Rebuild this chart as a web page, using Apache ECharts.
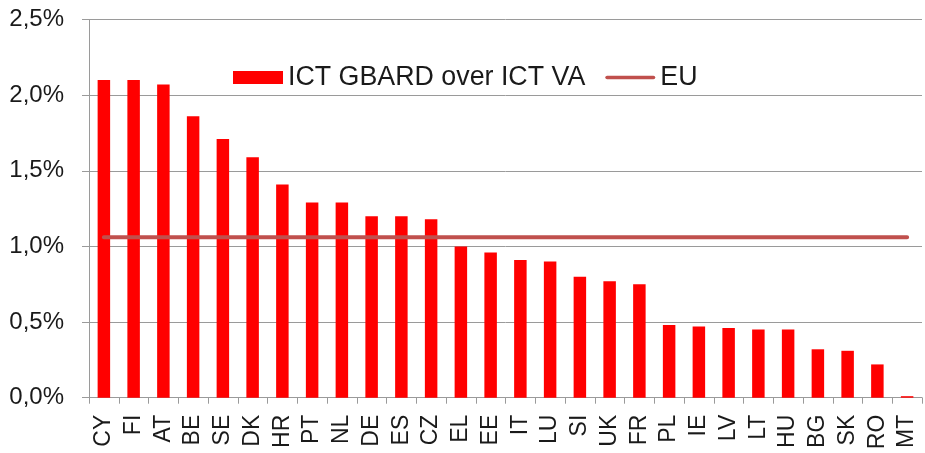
<!DOCTYPE html>
<html>
<head>
<meta charset="utf-8">
<script src="https://cdn.jsdelivr.net/npm/echarts@6/dist/echarts.min.js"></script>
<style>
html,body{margin:0;padding:0;background:#fff;}
#c{width:925px;height:453px;}
</style>
</head>
<body>
<div id="c"></div>
<script>
var countries = ['CY','FI','AT','BE','SE','DK','HR','PT','NL','DE','ES','CZ','EL','EE','IT','LU','SI','UK','FR','PL','IE','LV','LT','HU','BG','SK','RO','MT'];
var gbardValues = [2.10,2.10,2.07,1.86,1.71,1.59,1.41,1.29,1.29,1.20,1.20,1.18,1.00,0.96,0.91,0.90,0.80,0.77,0.75,0.48,0.47,0.46,0.45,0.45,0.32,0.31,0.22,0.01];
var euValues = [1.06,1.06,1.06,1.06,1.06,1.06,1.06,1.06,1.06,1.06,1.06,1.06,1.06,1.06,1.06,1.06,1.06,1.06,1.06,1.06,1.06,1.06,1.06,1.06,1.06,1.06,1.06,1.06];
var seriesNames = ['ICT GBARD over ICT VA','EU'];
var yMin = 0, yMax = 2.5, yStep = 0.5;

var chart = echarts.init(document.getElementById('c'));
var font = 'Liberation Sans, Arial, sans-serif';
chart.setOption({
  animation: false,
  backgroundColor: '#ffffff',
  textStyle: {fontFamily: font},
  legend: {
    left: 233, top: 64, padding: 0,
    itemWidth: 50, itemHeight: 13, itemGap: 20,
    textStyle: {fontFamily: font, fontSize: 26.8, color: '#1a1a1a', lineHeight: 26},
    data: [
      {name: seriesNames[0], icon: 'rect'},
      {name: seriesNames[1], icon: 'path://M2,0L53,0A2,2,0,0,1,53,4L2,4A2,2,0,0,1,2,0Z'}
    ]
  },
  grid: {left: 89, right: 3, top: 19.5, bottom: 55.3, containLabel: false},
  xAxis: {
    type: 'category',
    data: countries,
    boundaryGap: true,
    axisLine: {lineStyle: {color: '#9a9a9a', width: 1}},
    axisTick: {show: true, alignWithLabel: false, length: 6, lineStyle: {color: '#9a9a9a'}},
    axisLabel: {interval: 0, rotate: 90, margin: 17, fontSize: 23, color: '#1a1a1a', fontFamily: font}
  },
  yAxis: {
    type: 'value',
    min: yMin, max: yMax, interval: yStep,
    axisLine: {show: true, lineStyle: {color: '#9a9a9a', width: 1}},
    axisTick: {show: true, length: 7, lineStyle: {color: '#9a9a9a'}},
    splitLine: {show: true, lineStyle: {color: '#9a9a9a', width: 1}},
    axisLabel: {
      margin: 25, fontSize: 24, color: '#1a1a1a', fontFamily: font,
      formatter: function (v) { return v.toFixed(1).replace('.', ',') + '%'; }
    }
  },
  series: [
    {
      name: seriesNames[0],
      type: 'bar',
      data: gbardValues,
      barWidth: '42%',
      itemStyle: {color: '#ff0000'}
    },
    {
      name: seriesNames[1],
      type: 'line',
      data: euValues,
      symbol: 'none',
      showSymbol: false,
      lineStyle: {color: '#c0504d', width: 4, cap: 'round'},
      itemStyle: {color: '#c0504d'},
      z: 5
    }
  ]
});
</script>
</body>
</html>
